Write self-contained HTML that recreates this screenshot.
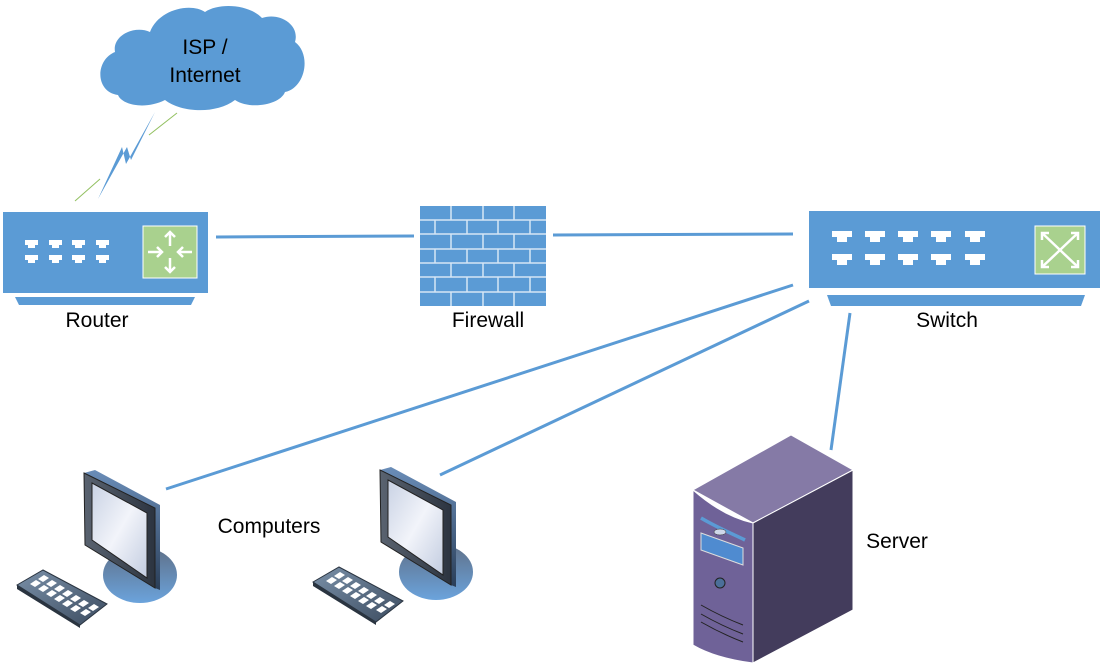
<!DOCTYPE html>
<html><head><meta charset="utf-8"><style>
html,body{margin:0;padding:0;background:#fff;}
svg{display:block;}
text{font-family:"Liberation Sans",sans-serif;fill:#000;}
</style></head><body>
<svg width="1105" height="667" viewBox="0 0 1105 667" xmlns="http://www.w3.org/2000/svg">
<defs>
<linearGradient id="scr" x1="0" y1="0" x2="1" y2="1"><stop offset="0" stop-color="#c9d2e4"/><stop offset="0.5" stop-color="#f2f4fa"/><stop offset="1" stop-color="#c2cce0"/></linearGradient>
<linearGradient id="mon" x1="0" y1="0" x2="1" y2="0"><stop offset="0" stop-color="#5a6370"/><stop offset="1" stop-color="#2c3440"/></linearGradient>
<linearGradient id="side" x1="0" y1="0" x2="0" y2="1"><stop offset="0" stop-color="#6a8db8"/><stop offset="1" stop-color="#2a3e58"/></linearGradient>
<linearGradient id="stand" x1="0" y1="0" x2="0" y2="1"><stop offset="0" stop-color="#5f7088"/><stop offset="1" stop-color="#6ba3dc"/></linearGradient>
<linearGradient id="kb" x1="0" y1="0" x2="1" y2="1"><stop offset="0" stop-color="#7a90a8"/><stop offset="1" stop-color="#3c4c60"/></linearGradient>
<g id="comp">
<ellipse cx="140" cy="575" rx="37" ry="28" fill="url(#stand)"/>
<polygon points="84,473 95,470 160,505 160,590 155,588 155,508" fill="url(#side)"/>
<polygon points="84,473 155,508 155,588 85,545" fill="url(#mon)" stroke="#222" stroke-width="1"/>
<polygon points="92,483 147,513 147,578 92,540" fill="url(#scr)" stroke="#222" stroke-width="1"/>
<polygon points="17,585 43,570 107,604 80,625" fill="url(#kb)" stroke="#2a3440" stroke-width="1"/>
<polygon points="17,585 80,625 80,628 17,589" fill="#2a3440"/>
<g fill="#fff">
<polygon points="30,584 36,580 41,583 35,587"/><polygon points="38,579 44,575 49,578 43,582"/>
<polygon points="38,589 44,585 49,588 43,592"/><polygon points="46,584 52,580 57,583 51,587"/>
<polygon points="46,594 52,590 57,593 51,597"/><polygon points="54,589 60,585 65,588 59,592"/>
<polygon points="54,599 60,595 65,598 59,602"/><polygon points="62,594 68,590 73,593 67,597"/>
<polygon points="62,604 68,600 73,603 67,607"/><polygon points="70,599 76,595 81,598 75,602"/>
<polygon points="70,609 76,605 81,608 75,612"/><polygon points="78,604 84,600 89,603 83,607"/>
<polygon points="80,613 86,609 91,612 85,616"/><polygon points="88,608 94,604 99,607 93,611"/>
</g>
</g>
</defs>

<g stroke="#5b9bd5" stroke-width="3" fill="none">
<line x1="216" y1="237" x2="414" y2="236"/>
<line x1="553" y1="235" x2="793" y2="234"/>
<line x1="793" y1="285" x2="166" y2="489"/>
<line x1="809" y1="301" x2="440" y2="475"/>
<line x1="850" y1="313" x2="831" y2="450"/>
</g>

<path d="M118,95 C95,92 95,60 115,52 C112,35 135,25 150,32 C158,10 190,2 205,12 C220,2 250,5 262,18 C280,12 300,25 295,42 C312,55 305,88 285,92 C280,105 250,110 235,100 C215,115 180,112 165,100 C145,110 122,105 118,95 Z" fill="#5b9bd5"/>
<text x="205" y="54" font-size="21" text-anchor="middle">ISP /</text>
<text x="205" y="82" font-size="21" text-anchor="middle">Internet</text>
<line x1="75" y1="201" x2="100" y2="179" stroke="#92c060" stroke-width="1"/>
<line x1="149" y1="135" x2="177" y2="113" stroke="#92c060" stroke-width="1"/>
<polygon points="98,199 122,147 126,164 155,112 131,160 127,147" fill="#5b9bd5"/>

<rect x="3" y="212" width="205" height="81" fill="#5b9bd5"/>
<polygon points="15,297 195,297 191,305 19,305" fill="#5b9bd5"/>
<rect x="143" y="226" width="54" height="52" fill="#a9d18e" stroke="#fff" stroke-width="1"/>
<g stroke="#fff" stroke-width="2.5" fill="none">
<line x1="170" y1="232" x2="170" y2="246"/><polyline points="165,237 170,232 175,237"/>
<line x1="170" y1="258" x2="170" y2="272"/><polyline points="165,267 170,272 175,267"/>
<line x1="148" y1="252" x2="162" y2="252"/><polyline points="157,247 162,252 157,257"/>
<line x1="178" y1="252" x2="192" y2="252"/><polyline points="183,247 178,252 183,257"/>
</g>
<g fill="#fff">
<path d="M25,240h13v5h-3v3h-7v-3h-3z"/><path d="M49,240h13v5h-3v3h-7v-3h-3z"/><path d="M72,240h13v5h-3v3h-7v-3h-3z"/><path d="M96,240h13v5h-3v3h-7v-3h-3z"/>
<path d="M25,255h13v5h-3v3h-7v-3h-3z"/><path d="M49,255h13v5h-3v3h-7v-3h-3z"/><path d="M72,255h13v5h-3v3h-7v-3h-3z"/><path d="M96,255h13v5h-3v3h-7v-3h-3z"/>
</g>
<text x="97" y="327" font-size="21" text-anchor="middle">Router</text>

<rect x="420" y="206" width="126" height="100" fill="#5b9bd5"/>
<g stroke="#d6e6f5" stroke-width="1.5">
<line x1="420" y1="220" x2="546" y2="220"/><line x1="420" y1="234" x2="546" y2="234"/><line x1="420" y1="249" x2="546" y2="249"/><line x1="420" y1="263" x2="546" y2="263"/><line x1="420" y1="277" x2="546" y2="277"/><line x1="420" y1="292" x2="546" y2="292"/>
<line x1="451" y1="206" x2="451" y2="220"/><line x1="483" y1="206" x2="483" y2="220"/><line x1="514" y1="206" x2="514" y2="220"/>
<line x1="435" y1="220" x2="435" y2="234"/><line x1="467" y1="220" x2="467" y2="234"/><line x1="498" y1="220" x2="498" y2="234"/><line x1="530" y1="220" x2="530" y2="234"/>
<line x1="451" y1="234" x2="451" y2="249"/><line x1="483" y1="234" x2="483" y2="249"/><line x1="514" y1="234" x2="514" y2="249"/>
<line x1="435" y1="249" x2="435" y2="263"/><line x1="467" y1="249" x2="467" y2="263"/><line x1="498" y1="249" x2="498" y2="263"/><line x1="530" y1="249" x2="530" y2="263"/>
<line x1="451" y1="263" x2="451" y2="277"/><line x1="483" y1="263" x2="483" y2="277"/><line x1="514" y1="263" x2="514" y2="277"/>
<line x1="435" y1="277" x2="435" y2="292"/><line x1="467" y1="277" x2="467" y2="292"/><line x1="498" y1="277" x2="498" y2="292"/><line x1="530" y1="277" x2="530" y2="292"/>
<line x1="451" y1="292" x2="451" y2="306"/><line x1="483" y1="292" x2="483" y2="306"/><line x1="514" y1="292" x2="514" y2="306"/>
</g>
<text x="488" y="327" font-size="21" text-anchor="middle">Firewall</text>

<rect x="809" y="211" width="291" height="77" fill="#5b9bd5"/>
<polygon points="827,295 1085,295 1081,306 831,306" fill="#5b9bd5"/>
<rect x="1035" y="226" width="50" height="48" fill="#a9d18e" stroke="#fff" stroke-width="1"/>
<g stroke="#fff" stroke-width="2.5" fill="none">
<path d="M1042,233 C1055,245 1065,255 1078,267"/><path d="M1078,233 C1065,245 1055,255 1042,267"/>
<polyline points="1042,240 1042,233 1049,233"/><polyline points="1071,233 1078,233 1078,240"/>
<polyline points="1042,260 1042,267 1049,267"/><polyline points="1071,267 1078,267 1078,260"/>
</g>
<g fill="#fff">
<path d="M832,231h20v6h-5v5h-10v-5h-5z"/><path d="M865,231h20v6h-5v5h-10v-5h-5z"/><path d="M898,231h20v6h-5v5h-10v-5h-5z"/><path d="M931,231h20v6h-5v5h-10v-5h-5z"/><path d="M965,231h20v6h-5v5h-10v-5h-5z"/>
<path d="M832,254h20v6h-5v5h-10v-5h-5z"/><path d="M865,254h20v6h-5v5h-10v-5h-5z"/><path d="M898,254h20v6h-5v5h-10v-5h-5z"/><path d="M931,254h20v6h-5v5h-10v-5h-5z"/><path d="M965,254h20v6h-5v5h-10v-5h-5z"/>
</g>
<text x="947" y="327" font-size="21" text-anchor="middle">Switch</text>

<use href="#comp"/>
<use href="#comp" transform="translate(296,-3)"/>
<text x="269" y="533" font-size="21" text-anchor="middle">Computers</text>

<polygon points="693,490 791,435 853,470 753,523" fill="#857aa6" stroke="#fff" stroke-width="1"/>
<polygon points="753,523 853,470 853,610 753,663" fill="#433c5c" stroke="#fff" stroke-width="1"/>
<path d="M693,490 C710,505 730,518 753,523 L753,663 C730,660 710,655 693,645 Z" fill="#6f6298" stroke="#fff" stroke-width="1"/>
<path d="M701,518 C718,528 735,535 745,540" stroke="#5b9bd5" stroke-width="3.5" fill="none"/>
<ellipse cx="720" cy="532" rx="6" ry="3" fill="#cfd8ea" stroke="#333" stroke-width="0.5"/>
<polygon points="701,533 743,548 743,565 701,550" fill="#4f8bd0" stroke="#ddd" stroke-width="1"/>
<circle cx="720" cy="583" r="5" fill="#4b6f99" stroke="#222" stroke-width="1"/>
<g stroke="#222" stroke-width="1" fill="none">
<path d="M701,605 C715,613 730,620 743,625"/><path d="M701,614 C715,622 730,629 743,634"/><path d="M701,622 C715,630 730,637 743,642"/>
</g>
<text x="897" y="548" font-size="21" text-anchor="middle">Server</text>
</svg>
</body></html>
